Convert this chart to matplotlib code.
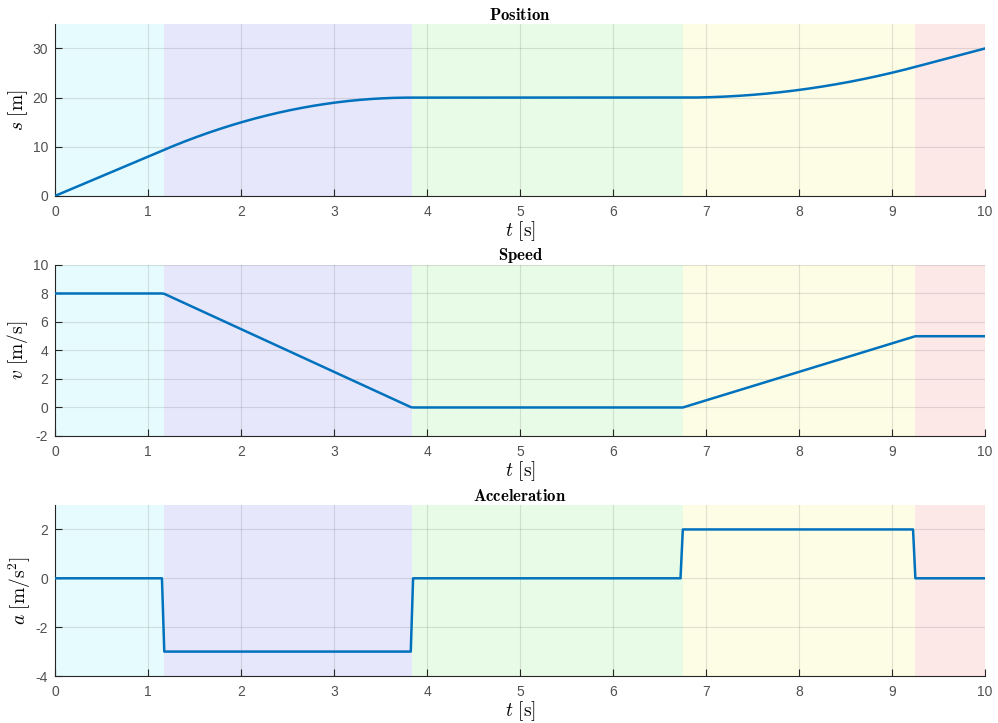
import numpy as np
import matplotlib.pyplot as plt

# Motion phases: edges in time, acceleration in each phase, start speed
phase_edges = [0.0, 1.1667, 3.8333, 6.75, 9.25, 10.0]
phase_acc = [0.0, -3.0, 0.0, 2.0, 0.0]
v_start = 8.0
phase_colors = ['#e5fbfd', '#e7e7fb', '#e8fbe6', '#fdfde6', '#fde8e8']

titles = ['Position', 'Speed', 'Acceleration']
ylabels = [r'$s\ [\mathrm{m}]$', r'$v\ [\mathrm{m/s}]$', r'$a\ [\mathrm{m/s^2}]$']
ylims = [(0, 35), (-2, 10), (-4, 3)]
yticks = [[0, 10, 20, 30], [-2, 0, 2, 4, 6, 8, 10], [-4, -2, 0, 2]]

# sample the motion phase by phase
t = np.arange(0, 10.0001, 0.025)
a = np.zeros_like(t)
v = np.zeros_like(t)
s = np.zeros_like(t)
v0, s0 = v_start, 0.0
for i, acc in enumerate(phase_acc):
    t0, t1 = phase_edges[i], phase_edges[i + 1]
    m = (t >= t0) & (t <= t1)
    dt = t[m] - t0
    a[m] = acc
    v[m] = v0 + acc * dt
    s[m] = s0 + v0 * dt + 0.5 * acc * dt ** 2
    T = t1 - t0
    s0 = s0 + v0 * T + 0.5 * acc * T ** 2
    v0 = v0 + acc * T

plt.rcParams['font.family'] = ['Liberation Sans', 'DejaVu Sans']
plt.rcParams['mathtext.fontset'] = 'cm'
plt.rcParams['axes.unicode_minus'] = False

fig = plt.figure(figsize=(9.98, 7.23), dpi=100)
bottoms = [0.729, 0.397, 0.065]
heights = [0.238, 0.2365, 0.2365]

for k, y in enumerate([s, v, a]):
    ax = fig.add_axes([0.0551, bottoms[k], 0.932, heights[k]])
    for i, c in enumerate(phase_colors):
        ax.axvspan(phase_edges[i], phase_edges[i + 1], color=c, lw=0, zorder=0)
    ax.plot(t, y, color='#0072BD', lw=1.8, zorder=3)
    ax.set_xlim(0, 10)
    ax.set_ylim(*ylims[k])
    ax.set_xticks(range(0, 11))
    ax.set_yticks(yticks[k])
    ax.grid(True, color='#262626', alpha=0.13, lw=0.8, zorder=1)
    ax.set_axisbelow(False)
    for side in ['top', 'right']:
        ax.spines[side].set_visible(False)
    for side in ['left', 'bottom']:
        ax.spines[side].set_color('#262626')
        ax.spines[side].set_linewidth(0.8)
    ax.tick_params(direction='in', length=5, width=0.8, colors='#262626',
                   labelsize=10, labelcolor='#505050')
    ax.tick_params(axis='x', pad=6.5)
    ax.tick_params(axis='y', pad=5)
    ax.set_title(r'$\mathbf{' + titles[k] + '}$', fontsize=12, pad=3)
    ax.set_xlabel(r'$t\ [\mathrm{s}]$', fontsize=14, labelpad=0)
    ax.set_ylabel(ylabels[k], fontsize=14, labelpad=2)

fig.savefig('out.png', dpi=100)
